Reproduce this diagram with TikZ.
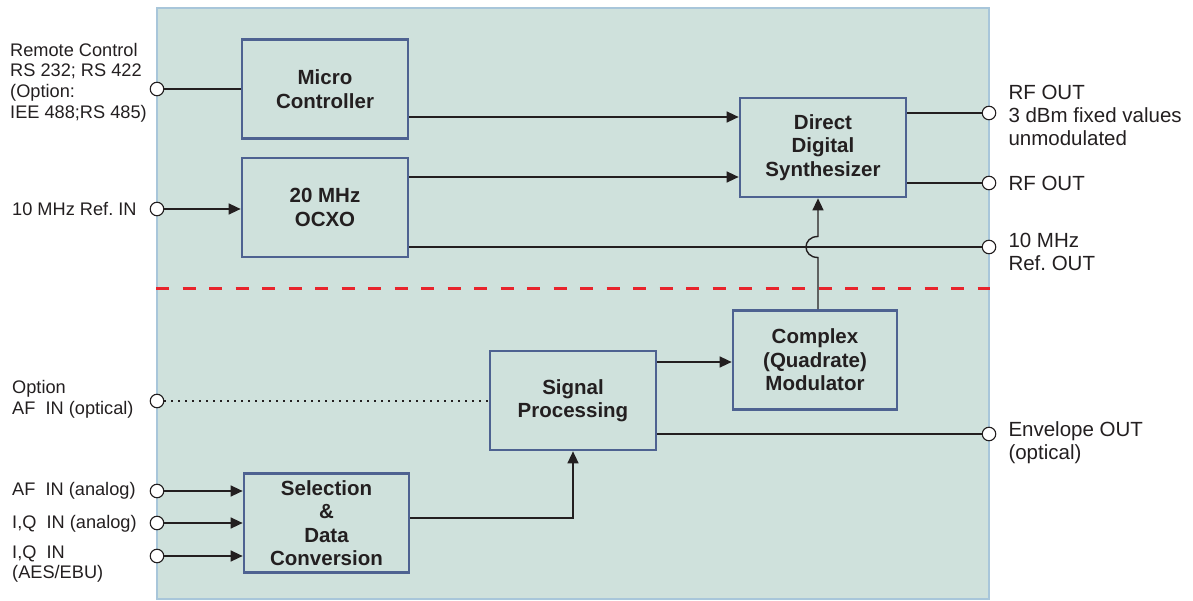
\documentclass[tikz,border=0pt]{standalone}
\usepackage{fontspec}
\setmainfont{Liberation Sans}
\usepackage{xcolor}
\usetikzlibrary{arrows.meta, positioning}
\definecolor{panelfill}{RGB}{207,225,220}
\definecolor{paneldraw}{RGB}{168,198,218}
\definecolor{boxdraw}{RGB}{78,98,145}
\definecolor{inkgray}{RGB}{35,31,32}
\definecolor{sepred}{RGB}{232,36,44}
\frenchspacing
\tikzset{
  panel/.style={draw=paneldraw, fill=panelfill, line width=2pt, inner sep=0pt,
                minimum width=832pt, minimum height=591pt},
  block/.style={draw=boxdraw, line width=2.7pt, align=center, inner sep=0pt, text=inkgray,
                minimum width=166pt, minimum height=99pt,
                font=\bfseries\fontsize{20.5}{23.5}\selectfont},
  port/.style={circle, draw=inkgray, fill=white, line width=1.1pt, inner sep=0pt, minimum size=13.5pt},
  sigline/.style={draw=inkgray, line width=1.4pt},
  sigarrow/.style={sigline, -{Triangle[length=12pt, width=11pt]}},
  optline/.style={sigline, line width=1.1pt, dash pattern=on 1.2pt off 5.8pt},
  sepline/.style={draw=sepred, line width=3pt, dash pattern=on 13pt off 13.5pt},
  inlabel/.style={anchor=west, align=left, inner sep=0pt, text=inkgray,
                  font=\fontsize{18.2}{20.6}\selectfont},
  outlabel/.style={anchor=west, align=left, inner sep=0pt, text=inkgray,
                   font=\fontsize{20.5}{23}\selectfont}
}
\begin{document}
\begin{tikzpicture}[x=1pt, y=-1pt]
\useasboundingbox (0,0) rectangle (1193,601);

% Housing and separation
\node[panel] (panel) at (573,303.5) {};
\draw[sepline] (panel.west |- 0,289) -- (panel.east |- 0,289);

% Blocks
\node[block] (mc)   at (325,89)    {Micro\\Controller};
\node[block] (ocxo) at (325,207.5) {20 MHz\\OCXO};
\node[block] (dds)  at (823,147.5) {Direct\\Digital\\Synthesizer};
\node[block, minimum width=164pt] (mod) at (815,360) {Complex\\(Quadrate)\\Modulator};
\node[block] (sp)   at (573,400.5) {Signal\\Processing};
\node[block, minimum width=165pt] (sel) at (326.5,523) {Selection\\\&\\Data\\Conversion};

% Ports
\node[port] (pRC)     at (157,89)  {};
\node[port] (pRefIn)  at (157,209) {};
\node[port] (pAFopt)  at (157,401) {};
\node[port] (pAFan)   at (157,491) {};
\node[port] (pIQan)   at (157,523) {};
\node[port] (pIQaes)  at (157,556) {};
\node[port] (pRF1)    at (989,113) {};
\node[port] (pRF2)    at (989,183) {};
\node[port] (pRefOut) at (989,247) {};
\node[port] (pEnv)    at (989,434) {};

% Connection points
\coordinate (mcout)   at ([yshift=-28pt]mc.east);
\coordinate (ocxoout) at ([yshift=30.5pt]ocxo.east);
\coordinate (ocxoref) at ([yshift=-39.5pt]ocxo.east);
\coordinate (ddsrf1)  at ([yshift=34.5pt]dds.east);
\coordinate (ddsrf2)  at ([yshift=-35.5pt]dds.east);
\coordinate (spmod)   at ([yshift=38.5pt]sp.east);
\coordinate (spenv)   at ([yshift=-33.5pt]sp.east);
\coordinate (selout)  at ([yshift=5pt]sel.east);
\coordinate (hop)     at (818,247);

% Connections
\draw[sigline]  (pRC) -- (mc.west |- pRC);
\draw[sigarrow] (mcout) -- (mcout -| dds.west);
\draw[sigarrow] (pRefIn) -- (ocxo.west |- pRefIn);
\draw[sigarrow] (ocxoout) -- (ocxoout -| dds.west);
\draw[sigline]  (ocxoref) -- (pRefOut);
\draw[sigline]  (ddsrf1) -- (pRF1);
\draw[sigline]  (ddsrf2) -- (pRF2);
\draw[sigarrow] (mod.north -| hop) -- ([yshift=-10.5pt]hop)
  .. controls +(-16,0) and +(-16,0) .. ([yshift=10.5pt]hop) -- (dds.south -| hop);
\draw[sigarrow] (spmod) -- (spmod -| mod.west);
\draw[sigline]  (spenv) -- (pEnv);
\draw[optline]  (pAFopt) -- (sp.west |- pAFopt);
\draw[sigarrow] (selout) -| (sp.south);
\draw[sigarrow] (pAFan) -- (sel.west |- pAFan);
\draw[sigarrow] (pIQan) -- (sel.west |- pIQan);
\draw[sigarrow] (pIQaes) -- (sel.west |- pIQaes);

% Labels
\node[inlabel] (lRC)    at (10,82.5) {Remote Control\\RS 232; RS 422\\(Option:\\IEE 488;RS 485)};
\node[inlabel] (lRefIn) at (12,209)  {10 MHz Ref. IN};
\node[inlabel] (lAFopt) at (12,399)  {Option\\AF~~IN (optical)};
\node[inlabel] (lAFan)  at (12,491)  {AF~~IN (analog)};
\node[inlabel] (lIQan)  at (12,524)  {I,Q~~IN (analog)};
\node[inlabel] (lIQaes) at (12,564)  {I,Q~~IN\\(AES/EBU)};
\node[outlabel, right=12pt of pRF1, yshift=-2pt]  (lRF1)    {RF OUT\\3 dBm fixed values\\unmodulated};
\node[outlabel, right=12pt of pRF2]               (lRF2)    {RF OUT};
\node[outlabel, right=12pt of pRefOut, yshift=-5pt] (lRefOut) {10 MHz\\Ref. OUT};
\node[outlabel, right=12pt of pEnv, yshift=-9pt]  (lEnv)    {Envelope OUT\\(optical)};

\end{tikzpicture}
\end{document}
